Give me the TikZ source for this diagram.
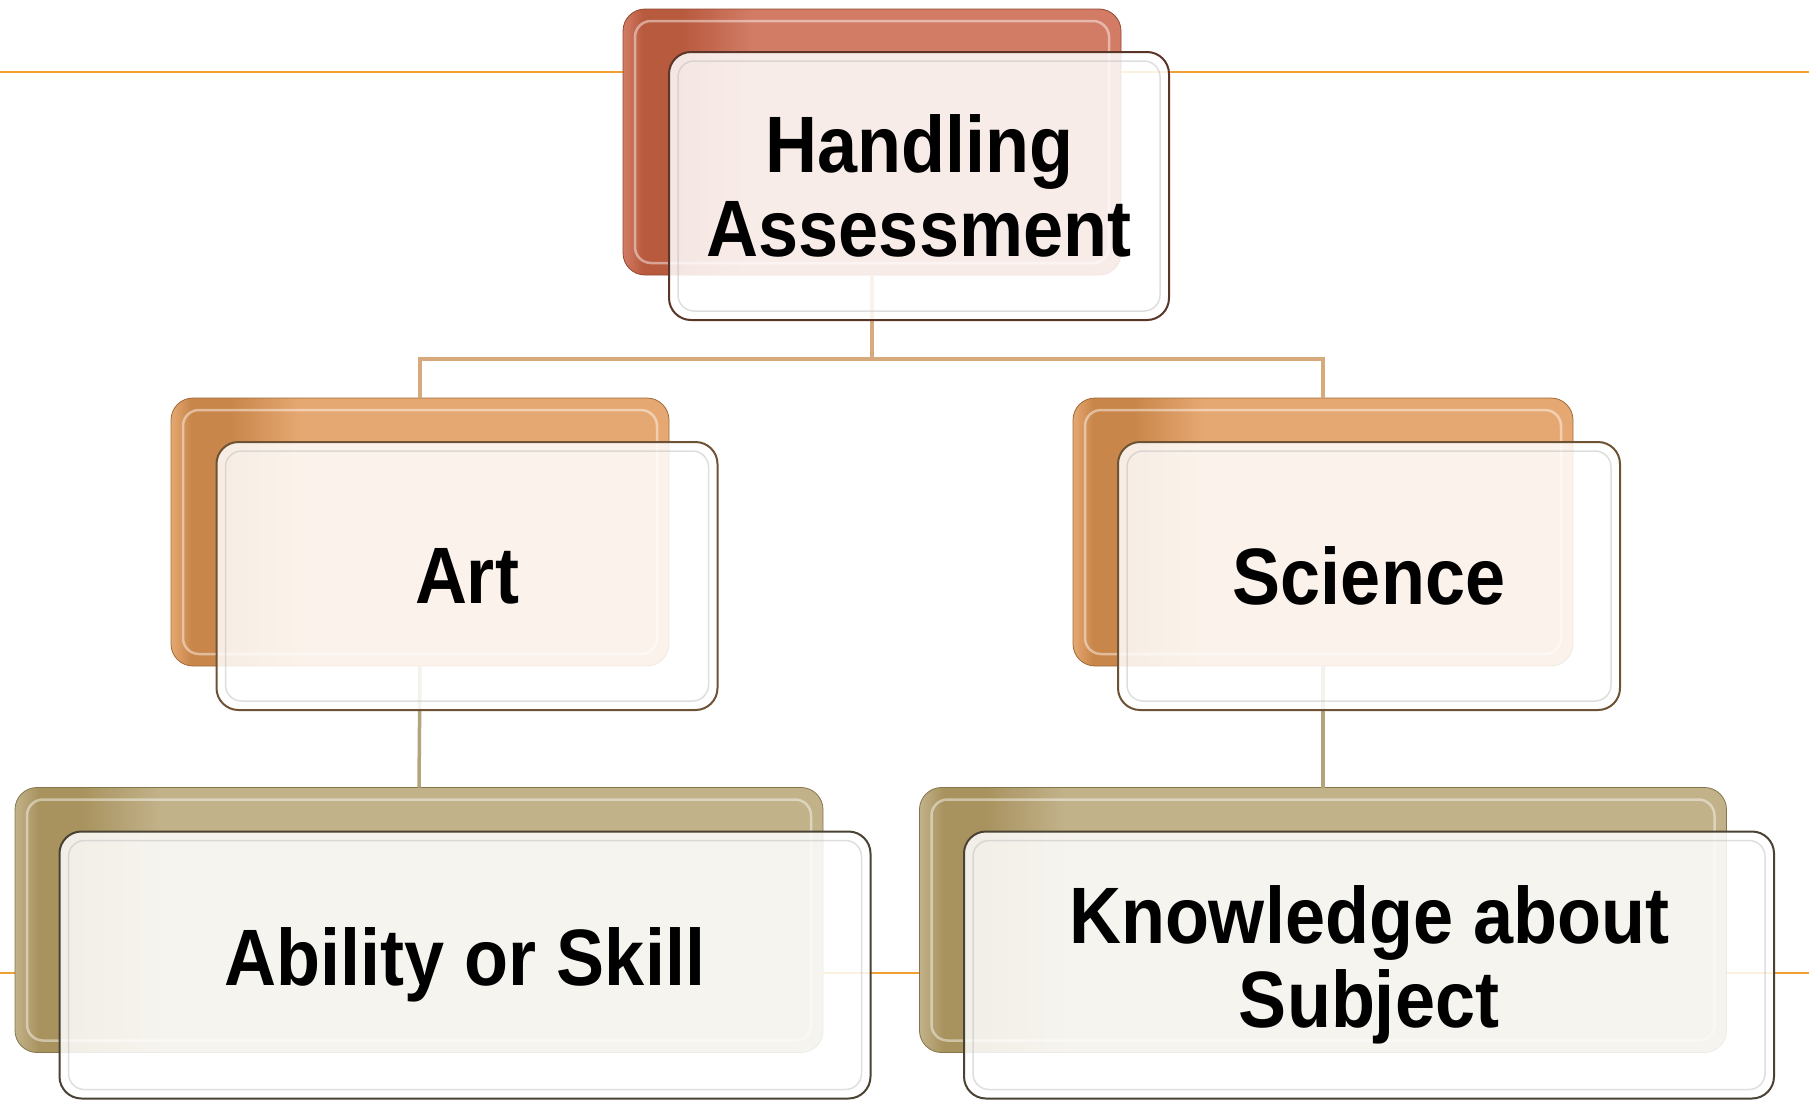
\documentclass[tikz,border=0pt]{standalone}
\usepackage{fontspec}
\newfontfamily\lblfont{Liberation Sans}[FakeStretch=0.9]
\usetikzlibrary{calc}
\definecolor{topL}{HTML}{D27C66}
\definecolor{topD}{HTML}{B85A3E}
\definecolor{artL}{HTML}{E6A872}
\definecolor{artD}{HTML}{C8864A}
\definecolor{botL}{HTML}{C2B28A}
\definecolor{botD}{HTML}{A8925E}
\definecolor{edgeTop}{HTML}{5A3528}
\definecolor{edgeArt}{HTML}{6E5234}
\definecolor{edgeBot}{HTML}{4A4232}
\definecolor{linkTop}{HTML}{D6AA7C}
\definecolor{linkBot}{HTML}{B4A47C}
\definecolor{orangeline}{HTML}{F0A030}
\pgfdeclarehorizontalshading{topshade}{100bp}{color(0bp)=(topL); color(25bp)=(topL); color(27bp)=(topD); color(31bp)=(topD); color(38bp)=(topL); color(100bp)=(topL)}
\pgfdeclarehorizontalshading{artshade}{100bp}{color(0bp)=(artL); color(25bp)=(artL); color(27bp)=(artD); color(31bp)=(artD); color(38bp)=(artL); color(100bp)=(artL)}
\pgfdeclarehorizontalshading{botshade}{100bp}{color(0bp)=(botL); color(25bp)=(botL); color(26.5bp)=(botD); color(29bp)=(botD); color(34bp)=(botL); color(100bp)=(botL)}
\tikzset{
  backbox/.style={rectangle, rounded corners=22pt, inner sep=0pt, outer sep=0pt, draw=#1!80!black, line width=0.8pt},
  frontbox/.style={rectangle, rounded corners=22pt, inner sep=0pt, outer sep=0pt, draw=#1, line width=2pt,
    fill=white, fill opacity=0.86, text opacity=1, align=center, font=\lblfont\bfseries\fontsize{80}{84}\selectfont},
  gloss/.style={white, opacity=0.45, line width=2.5pt, rounded corners=16pt},
  bevel/.style={black!25, opacity=0.5, line width=1.5pt, rounded corners=16pt},
  linktop/.style={linkTop, line width=3.5pt},
  linkbot/.style={linkBot, line width=3.5pt},
}
\begin{document}
\begin{tikzpicture}[x=1pt,y=-1pt]
\useasboundingbox (0,0) rectangle (1809,1100);
% background orange rules
\coordinate (ruleAL) at (0,72);
\coordinate (ruleAR) at (1809,72);
\coordinate (ruleBL) at (0,973);
\coordinate (ruleBR) at (1809,973);
\draw[orangeline, line width=2.5pt] (ruleAL) -- (ruleAR);
\draw[orangeline, line width=1.5pt] (ruleBL) -- (ruleBR);

% back boxes
\node[backbox=topD, minimum width=498pt, minimum height=266pt, shading=topshade] (topB) at (872,142) {};
\node[backbox=artD, minimum width=498pt, minimum height=268pt, shading=artshade] (artB) at (420,532) {};
\node[backbox=artD, minimum width=500pt, minimum height=268pt, shading=artshade] (sciB) at (1323,532) {};
\node[backbox=botD, minimum width=808pt, minimum height=265pt, shading=botshade] (abB) at (419,920) {};
\node[backbox=botD, minimum width=807pt, minimum height=265pt, shading=botshade] (knB) at (1323,920) {};

% connectors
\coordinate (bus) at (872,359);
\draw[linktop] (topB.south) -- (bus);
\draw[linktop] (bus) -| (artB.north);
\draw[linktop] (bus) -| (sciB.north);
\draw[linkbot] (artB.south) -- (abB.north);
\draw[linkbot] (sciB.south) -- (knB.north);

% gloss on back boxes
\foreach \b in {topB, artB, sciB, abB, knB}{
  \draw[gloss] ($(\b.north west)+(12,12)$) rectangle ($(\b.south east)+(-12,-12)$);
}

% front boxes
\node[frontbox=edgeTop, minimum width=500pt, minimum height=268pt] (topF) at (919,186) {Handling\\Assessment};
\node[frontbox=edgeArt, minimum width=501pt, minimum height=268pt] (artF) at (467,576) {Art};
\node[frontbox=edgeArt, minimum width=502pt, minimum height=268pt] (sciF) at (1369,576) {Science};
\node[frontbox=edgeBot, minimum width=811pt, minimum height=267pt] (abF) at (465,965) {Ability or Skill};
\node[frontbox=edgeBot, minimum width=810pt, minimum height=267pt] (knF) at (1369,965) {Knowledge about\\Subject};

\foreach \f in {topF, artF, sciF, abF, knF}{
  \draw[bevel] ($(\f.north west)+(9,9)$) rectangle ($(\f.south east)+(-9,-9)$);
}
\end{tikzpicture}
\end{document}
